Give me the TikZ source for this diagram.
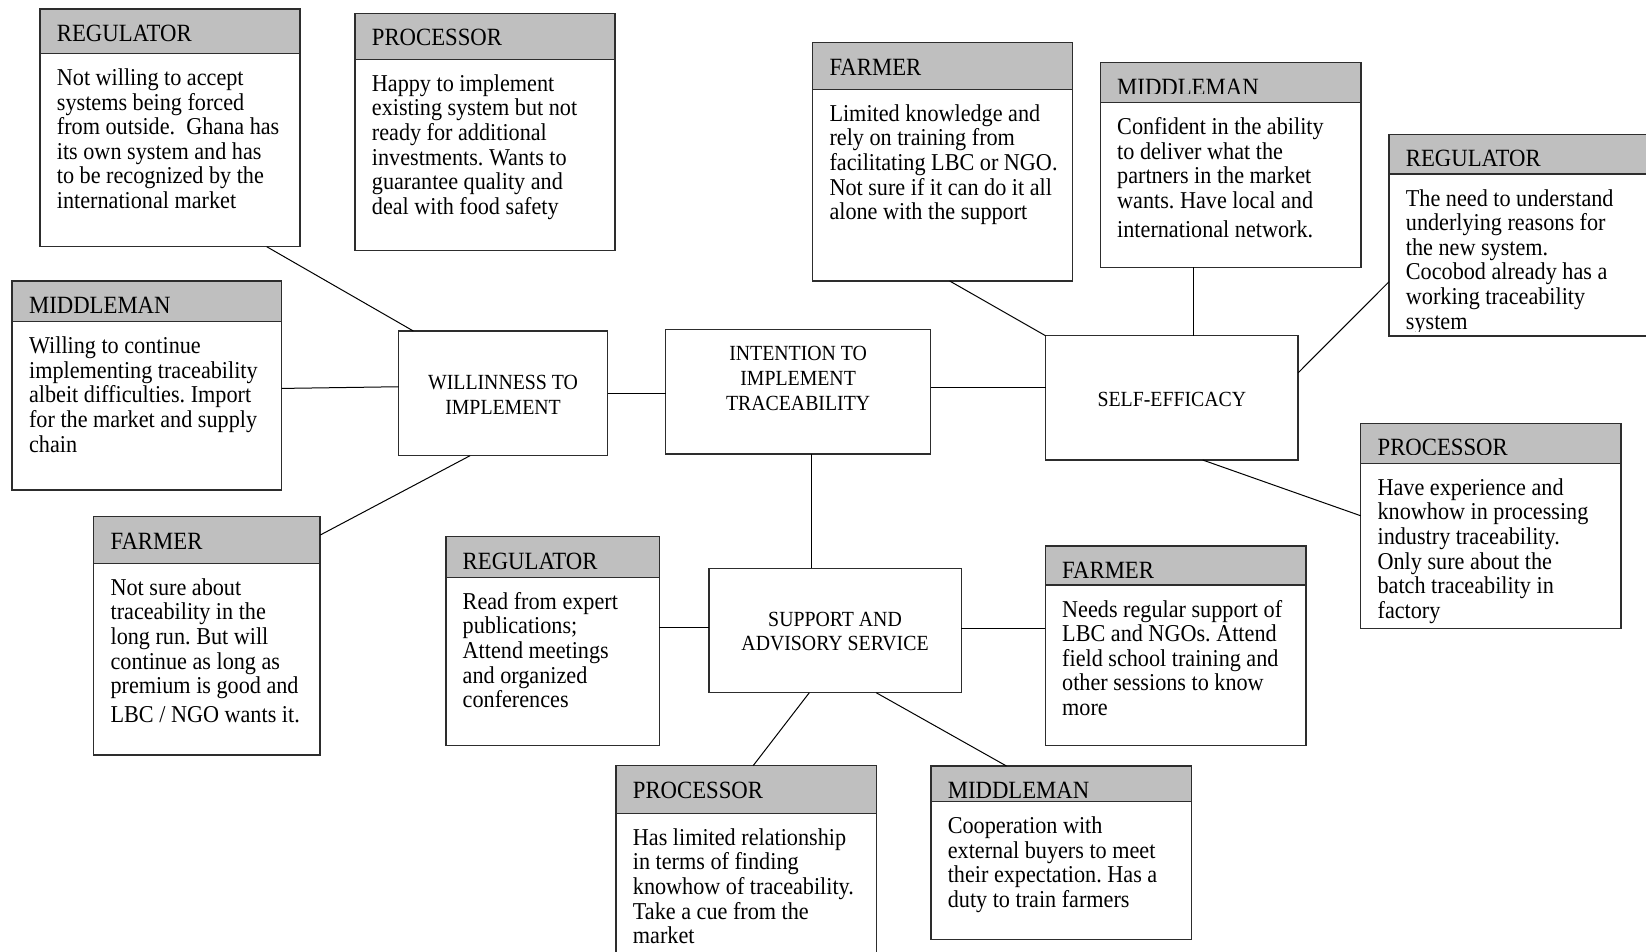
\documentclass[tikz,border=0pt]{standalone}
\usepackage{fontspec}
\setmainfont{Liberation Serif}[FakeStretch=0.917]
\usetikzlibrary{fit,calc}
\frenchspacing
\definecolor{headgray}{RGB}{191,191,191}
\definecolor{boxline}{RGB}{45,45,45}
\tikzset{
  panel/.style={draw=boxline, line width=1.5pt, fill=white, inner sep=0pt, outer sep=0pt},
  headband/.style={draw=boxline, line width=1.5pt, fill=headgray, inner sep=0pt, outer sep=0pt},
  titletext/.style={inner sep=0pt, font=\fontsize{24.8}{26}\selectfont},
  bodytext/.style={inner sep=0pt, font=\fontsize{24.2}{24.6}\selectfont},
  hubtext/.style={inner sep=0pt, font=\fontsize{21.6}{24.7}\selectfont},
  link/.style={draw=black, line width=1pt},
}

% #1 name, #2 x1, #3 y1, #4 x2, #5 y2, #6 header bottom, #7 title clip, #8 title, #9 body
\newcommand{\infobox}[9]{%
  \node[panel, fit={(#2,#3) (#4,#5)}] (#1) {};
  \node[headband, fit={(#2,#3) (#4,#6)}] (#1-head) {};
  \begin{scope}
    \clip (#2,#3) rectangle (#4,#7);
    \node[titletext, anchor=base west] (#1-title) at ({#2+16.7},{#3+32.5}) {#8};
  \end{scope}
  \begin{scope}
    \clip (#2,#6) rectangle (#4,{#5-5});
    \node[bodytext, anchor=base west] (#1-text) at ({#2+16.7},{#6+32}) {\parbox[t]{400pt}{#9}};
  \end{scope}
}
\newcommand{\hubbox}[5]{%
  \node[panel, fit={(#2,#3) (#4,#5)}] (#1) {};
}

\begin{document}
\begin{tikzpicture}[x=1pt,y=-1pt]
\useasboundingbox (0,0) rectangle (1646,951);
\fill[white] (0,0) rectangle (1646,951);
\clip (0,0) rectangle (1646,951);

% central concepts
\hubbox{will}{398.5}{331}{607.6}{455.7}
\hubbox{int}{665.6}{329.3}{930.6}{454}
\hubbox{self}{1045.5}{335.7}{1298.2}{460}
\hubbox{supp}{708.8}{568.3}{961.3}{692.7}

\node[hubtext, anchor=base] (will-text) at (503.05,389.3)
  {\parbox[t]{240pt}{\centering WILLINNESS TO\\IMPLEMENT}};
\node[hubtext, anchor=base] (int-text) at (798.1,360.7)
  {\parbox[t]{260pt}{\centering INTENTION TO\\IMPLEMENT\\TRACEABILITY}};
\node[hubtext, anchor=base] (self-text) at (1171.85,406.5)
  {\parbox[t]{240pt}{\centering SELF-EFFICACY}};
\node[hubtext, anchor=base] (supp-text) at (835.05,626)
  {\parbox[t]{260pt}{\centering SUPPORT AND\\ADVISORY SERVICE}};

% stakeholder boxes
\infobox{reg1}{40}{9}{300}{246.7}{53.5}{53.5}{REGULATOR}
  {Not willing to accept\\systems being forced\\from outside.\ \ Ghana has\\its own system and has\\to be recognized by the\\international market}
\infobox{proc1}{355}{13.3}{615}{250.7}{59.3}{59.3}{PROCESSOR}
  {Happy to implement\\existing system but not\\ready for additional\\investments. Wants to\\guarantee quality and\\deal with food safety}
\infobox{farm1}{812.6}{42.7}{1072.7}{281}{89.3}{89.3}{FARMER}
  {Limited knowledge and\\rely on training from\\facilitating LBC or NGO.\\Not sure if it can do it all\\alone with the support}
\infobox{mid1}{1100.3}{62.7}{1361}{267.3}{102.7}{93.7}{MIDDLEMAN}
  {Confident in the ability\\to deliver what the\\partners in the market\\wants. Have local and\\[4.5pt]international network.}
\infobox{reg2}{1389}{134.3}{1660}{336}{174}{165.3}{REGULATOR}
  {The need to understand\\underlying reasons for\\the new system.\\Cocobod already has a\\working traceability\\system}
\infobox{mid2}{12.2}{281}{281.6}{490}{321.7}{321.7}{MIDDLEMAN}
  {Willing to continue\\implementing traceability\\albeit difficulties. Import\\for the market and supply\\chain}
\infobox{proc2}{1360.7}{423.3}{1621}{628.3}{463.3}{454.3}{PROCESSOR}
  {Have experience and\\knowhow in processing\\industry traceability.\\Only sure about the\\batch traceability in\\factory}
\infobox{farm2}{93.7}{516.7}{320.2}{755}{563.3}{563.3}{FARMER}
  {Not sure about\\traceability in the\\long run. But will\\continue as long as\\premium is good and\\[4.5pt]LBC / NGO wants it.}
\infobox{reg3}{445.8}{536.7}{659.4}{745.7}{577.3}{577.3}{REGULATOR}
  {Read from expert\\publications;\\Attend meetings\\and organized\\conferences}
\infobox{farm3}{1045.3}{546}{1306}{745.7}{585}{577}{FARMER}
  {Needs regular support of\\LBC and NGOs. Attend\\field school training and\\other sessions to know\\more}
\infobox{proc3}{616}{765.7}{876.7}{975}{813.3}{813.3}{PROCESSOR}
  {Has limited relationship\\in terms of finding\\knowhow of traceability.\\Take a cue from the\\market}
\infobox{mid3}{930.9}{766}{1191.5}{939.3}{801.7}{801.7}{MIDDLEMAN}
  {Cooperation with\\external buyers to meet\\their expectation. Has a\\duty to train farmers}

% connectors around the willingness box
\draw[link] ($(reg1.south west)!0.872!(reg1.south east)$) -- ($(will.north west)!0.071!(will.north east)$);
\draw[link] ($(mid2.north east)!0.514!(mid2.south east)$) -- ($(will.north west)!0.447!(will.south west)$);
\draw[link] (will.east) -- (will.east -| int.west);
\draw[link] ($(will.south west)!0.342!(will.south east)$) -- ($(farm2.north east)!0.077!(farm2.south east)$);

% connectors around self-efficacy
\coordinate (intR) at ($(int.north east)!0.465!(int.south east)$);
\draw[link] (intR) -- (intR -| self.west);
\draw[link] ($(farm1.south west)!0.527!(farm1.south east)$) -- (self.north west);
\coordinate (midB) at ($(mid1.south west)!0.356!(mid1.south east)$);
\draw[link] (midB) -- (midB |- self.north);
\draw[link] ($(reg2.north west)!0.731!(reg2.south west)$) -- ($(self.north east)!0.298!(self.south east)$);
\draw[link] ($(self.south west)!0.622!(self.south east)$) -- ($(proc2.north west)!0.451!(proc2.south west)$);

% connectors around support and advisory service
\coordinate (intB) at ($(int.south west)!0.549!(int.south east)$);
\draw[link] (intB) -- (intB |- supp.north);
\coordinate (regR) at ($(reg3.north east)!0.433!(reg3.south east)$);
\draw[link] (regR) -- (regR -| supp.west);
\coordinate (suppR) at ($(supp.north east)!0.484!(supp.south east)$);
\draw[link] (suppR) -- (suppR -| farm3.west);
\draw[link] ($(supp.south west)!0.398!(supp.south east)$) -- ($(proc3.north west)!0.526!(proc3.north east)$);
\draw[link] ($(supp.south west)!0.663!(supp.south east)$) -- ($(mid3.north west)!0.29!(mid3.north east)$);
\end{tikzpicture}
\end{document}
